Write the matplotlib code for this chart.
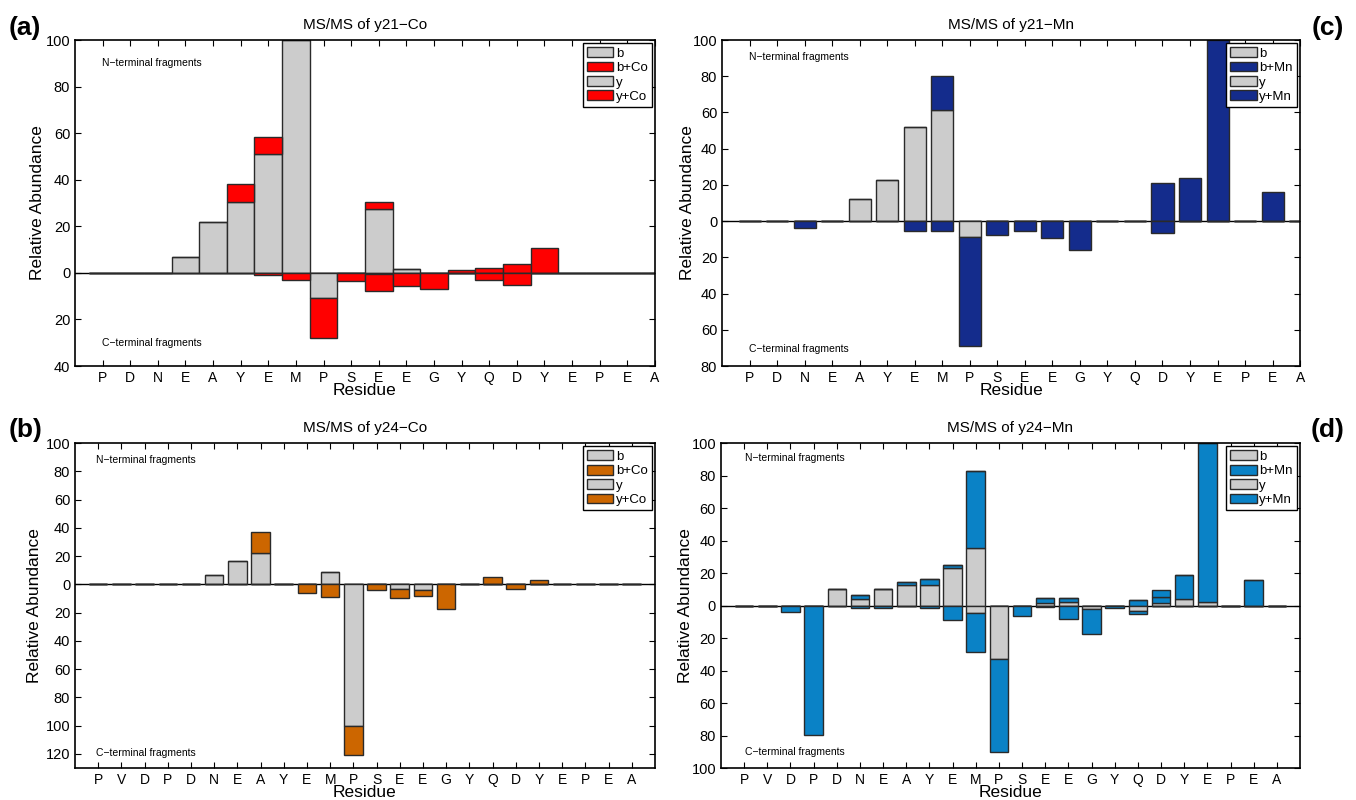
import matplotlib
matplotlib.use('Agg')
import matplotlib.pyplot as plt
from matplotlib.patches import Patch
from matplotlib.ticker import FuncFormatter
import numpy as np

plt.rcParams['font.family'] = ['Liberation Sans', 'DejaVu Sans']

# residue sequences
res_21 = list("PDNEAYEMPSEEGYQDYEPEA")
res_24 = list("PVDPDNEAYEMPSEEGYQDYEPEA")

# (a) y21-Co
a_b = [0, 0, 0, 7, 22, 30.5, 51, 100, 0, 0, 27.6, 1.6, 0, 0, 0, 0, 0, 0, 0, 0, 0]
a_bco = [0, 0, 0, 0, 0, 7.7, 7.4, 0, 0, 0, 3, 0, 0, 1.4, 1.9, 3.9, 10.7, 0, 0, 0, 0]
a_y = [0, 0, 0, 0, 0, 0, 0, 0, 10.7, 0, 0.7, 0, 0, 0, 0, 0, 0, 0, 0, 0, 0]
a_yco = [0, 0, 0, 0, 0, 0, 1, 3, 17.3, 3.4, 7.3, 5.6, 7, 0, 3.1, 5.3, 0, 0, 0, 0, 0]

# (c) y21-Mn
c_b = [0, 0, 0, 0, 12.3, 22.8, 51.7, 61.5, 0, 0, 0, 0, 0, 0, 0, 0, 0, 0, 0, 0, 0]
c_bmn = [0, 0, 0, 0, 0, 0, 0, 18.5, 0, 0, 0, 0, 0, 0, 0, 20.8, 23.6, 100, 0, 15.8, 0]
c_y = [0, 0, 0, 0, 0, 0, 0, 0, 8.5, 0, 0, 0, 0, 0, 0, 0, 0, 0, 0, 0, 0]
c_ymn = [0, 0, 4, 0, 0, 0, 5.5, 5.2, 60.2, 7.5, 5.2, 9.6, 16.2, 0, 0, 6.3, 0, 0, 0, 0, 0]

# (b) y24-Co
b_b = [0, 0, 0, 0, 0, 6.6, 16.5, 22.4, 0, 0, 8.5, 0, 0, 0, 0, 0, 0, 0, 0, 0, 0, 0, 0, 0]
b_bco = [0, 0, 0, 0, 0, 0, 0, 14.6, 0, 0, 0, 0, 0, 0, 0, 0, 0, 5.2, 0, 3, 0, 0, 0, 0]
b_y = [0, 0, 0, 0, 0, 0, 0, 0, 0, 0, 0, 100.5, 0, 3.3, 4.2, 0, 0, 0, 0, 0, 0, 0, 0, 0]
b_yco = [0, 0, 0, 0, 0, 0, 0, 0, 0, 6.1, 8.7, 20.5, 4, 6.4, 3.8, 17.7, 0, 0, 3, 0, 0, 0, 0, 0]

# (d) y24-Mn
d_b = [0, 0, 0, 0, 10.4, 3.9, 10.4, 12.4, 12.4, 22.9, 35.7, 0, 0, 1.4, 2, 0, 0, 0, 1.4, 3.9, 2.5, 0, 0, 0]
d_bmn = [0, 0, 0, 0, 0, 2.4, 0, 2.1, 4.1, 2.4, 47.3, 0, 0, 3.5, 2.9, 0, 0, 3.5, 4.1, 14.9, 97.5, 0, 15.5, 0]
d_bmn2 = [0, 0, 0, 0, 0, 0, 0, 0, 0, 0, 0, 0, 0, 0, 0, 0, 0, 0, 4.3, 0, 0, 0, 0, 0]
d_y = [0, 0, 0, 0, 0, 0, 0, 0, 0, 0, 4.5, 32.7, 0, 0, 0, 2.2, 0, 3.3, 0, 0, 0, 0, 0, 0]
d_ymn = [0, 0, 3.7, 79.8, 0, 1.6, 1.6, 0, 1.6, 9, 23.9, 57.3, 6.7, 1, 8.4, 15.4, 1.6, 1.6, 0, 0, 0, 0, 0, 0]

GRAY = '#cccccc'
EDGE = '#2a2a2a'

fig = plt.figure(figsize=(13.56, 8), dpi=100)


def panel(rect, residues, b, bm, y, ym, color, metal, title, ylim, width,
          letter, letter_xy, txt_x, txt_y, ylab_x, extra=None):
    ax = fig.add_axes(rect)
    x = np.arange(1, len(residues) + 1)
    b = np.array(b); bm = np.array(bm); y = np.array(y); ym = np.array(ym)
    ax.axhline(0, color='k', lw=1, zorder=1)
    kw = dict(width=width, edgecolor=EDGE, linewidth=1, zorder=2)
    ax.bar(x, b, color=GRAY, **kw)
    ax.bar(x, bm, bottom=b, color=color, **kw)
    if extra is not None:
        ax.bar(x, extra, bottom=b + bm, color=color, **kw)
    ax.bar(x, -y, color=GRAY, **kw)
    ax.bar(x, -ym, bottom=-y, color=color, **kw)
    ax.set_xlim(0, len(residues) + (0 if len(residues) == 21 else 1))
    ax.set_xticks(x)
    ax.set_xticklabels(residues, fontsize=10)
    ax.set_yticks(np.arange(-120, 101, 20))
    ax.set_ylim(*ylim)
    ax.yaxis.set_major_formatter(FuncFormatter(lambda v, p: '%d' % abs(v)))
    ax.tick_params(direction='in', length=4, top=True, right=True,
                   labelsize=10.5, width=0.8)
    ax.tick_params(axis='x', labelsize=10)
    for s in ax.spines.values():
        s.set_linewidth(1.2)
    ax.set_title(title, fontsize=11, pad=8)
    ax.set_xlabel('Residue', fontsize=12.5)
    ax.xaxis.set_label_coords(0.5, -0.053)
    ax.set_ylabel('Relative Abundance', fontsize=12.5)
    ax.yaxis.set_label_coords(ylab_x, 0.5)
    ax.text(txt_x, txt_y[0], 'N\u2212terminal fragments', transform=ax.transAxes,
            fontsize=7.5, va='center', ha='left')
    ax.text(txt_x, txt_y[1], 'C\u2212terminal fragments', transform=ax.transAxes,
            fontsize=7.5, va='center', ha='left')
    handles = [Patch(facecolor=GRAY, edgecolor=EDGE, label='b'),
               Patch(facecolor=color, edgecolor=EDGE, label='b+' + metal),
               Patch(facecolor=GRAY, edgecolor=EDGE, label='y'),
               Patch(facecolor=color, edgecolor=EDGE, label='y+' + metal)]
    leg = ax.legend(handles=handles, loc='upper right', fontsize=9.5,
                    fancybox=False, framealpha=1, edgecolor='k',
                    handlelength=2.0, handleheight=0.75, labelspacing=0.15,
                    handletextpad=0.2, borderpad=0.3, borderaxespad=0.25)
    leg.get_frame().set_linewidth(1)
    fig.text(letter_xy[0], letter_xy[1], letter, fontsize=19, fontweight='bold',
             ha='center', va='center')
    return ax


panel([0.0553, 0.5425, 0.4277, 0.4075], res_21, a_b, a_bco, a_y, a_yco,
      '#ff0000', 'Co', 'MS/MS of y21\u2212Co', (-40, 100), 1.0,
      '(a)', (0.0185, 0.965), 0.047, (0.93, 0.07), -0.052)
panel([0.5325, 0.5425, 0.4263, 0.4075], res_21, c_b, c_bmn, c_y, c_ymn,
      '#142c8c', 'Mn', 'MS/MS of y21\u2212Mn', (-80, 100), 0.8,
      '(c)', (0.979, 0.965), 0.047, (0.948, 0.052), -0.046)
panel([0.0553, 0.04, 0.4277, 0.406], res_24, b_b, b_bco, b_y, b_yco,
      '#cc6600', 'Co', 'MS/MS of y24\u2212Co', (-130, 100), 0.8,
      '(b)', (0.0185, 0.462), 0.036, (0.948, 0.046), -0.057)
panel([0.5317, 0.04, 0.427, 0.406], res_24, d_b, d_bmn, d_y, d_ymn,
      '#0a82c6', 'Mn', 'MS/MS of y24\u2212Mn', (-100, 100), 0.8,
      '(d)', (0.979, 0.462), 0.041, (0.955, 0.05), -0.048, extra=d_bmn2)

fig.savefig('out.png', dpi=100)
